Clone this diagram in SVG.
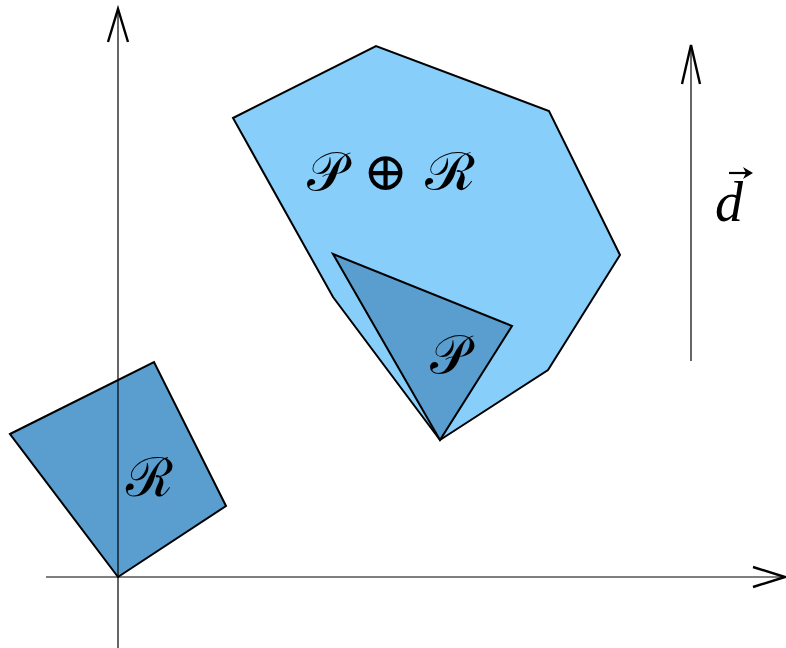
<svg xmlns="http://www.w3.org/2000/svg" width="786" height="648" viewBox="0 0 786 648">
<style>
.shape{stroke:#000;stroke-width:2;stroke-linejoin:miter}
.axis{stroke:#000;stroke-width:1.2;fill:none}
.head{stroke:#000;stroke-width:2.4;fill:none}
.lbl{font-family:"DejaVu Serif","Liberation Serif",serif;font-size:54px;fill:#000;text-anchor:middle}
</style>
<rect width="786" height="648" fill="#fff"/>
<g id="minkowski-sum">
<polygon class="shape" fill="#87cefa" points="233,118 376,46 549,111 620,255 548,370 440,440 333,297"/>
<text class="lbl" x="391" y="190">𝒫 ⊕ ℛ</text>
</g>
<g id="P">
<polygon class="shape" fill="#599ecf" points="333,254 512,326 440,440"/>
<text class="lbl" x="449" y="373">𝒫</text>
</g>
<g id="R">
<polygon class="shape" fill="#599ecf" points="10,434 154,362 226,506 118,577"/>
<text class="lbl" x="149" y="496">ℛ</text>
</g>
<g id="connectors">
<line class="axis" x1="46" y1="577" x2="784" y2="577"/>
<polyline class="head" points="753,567 785,577 753,587"/>
<line class="axis" x1="118" y1="648" x2="118" y2="9"/>
<polyline class="head" points="108,42 118,9 128,42"/>
<line class="axis" stroke-width="3" x1="691" y1="361" x2="691" y2="45"/>
<polyline class="head" points="682,84 691,45 700,84"/>
</g>
<g id="d">
<text x="729" y="221" style="font-family:'Liberation Serif',serif;font-style:italic;font-size:56px;text-anchor:middle">d</text>
<line x1="729" y1="173" x2="748" y2="173" stroke="#000" stroke-width="2.2"/>
<path d="M743,167 L753,173 L743,179 L746,173 Z" fill="#000"/>
</g>
</svg>
